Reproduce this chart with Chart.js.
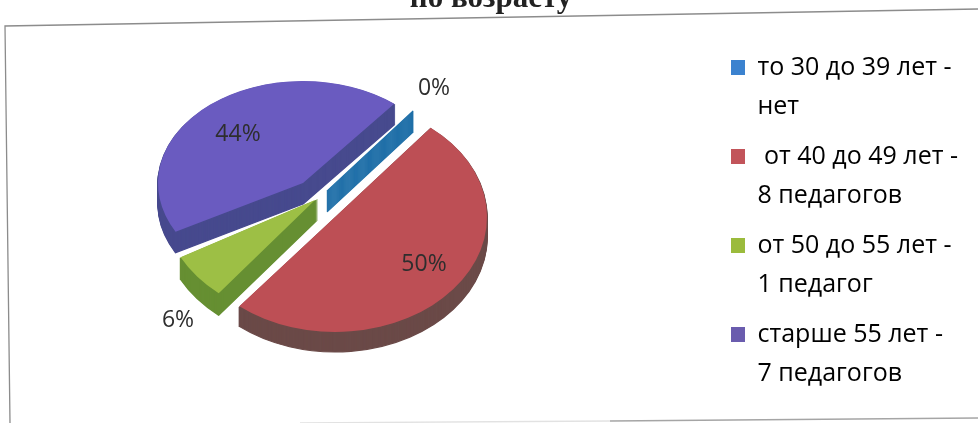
<!DOCTYPE html>
<html><head><meta charset="utf-8">
<style>html,body{margin:0;padding:0;background:#fff}#w{position:relative;width:978px;height:423px}canvas{display:block}</style>
<script src="https://cdn.jsdelivr.net/npm/chart.js@4"></script></head>
<body><div id="w"><canvas id="c" width="978" height="423"></canvas></div>
<script>
const categories=[["то 30 до 39 лет -","нет"],[" от 40 до 49 лет -","8 педагогов"],["от 50 до 55 лет -","1 педагог"],["старше 55 лет -","7 педагогов"]];
const values=[0,8,1,7];
const titleText="по возрасту";
const topColors=["#1f6fa8","#bd4f55","#9dbf45","#6a5bc0"];
const legendColors=["#3b82cf","#c2545a","#9bbb3c","#6a5cae"];
const wallColors=["#1f6fa8","#6b4a48","#668f32","#474a8e"];
// per-slice projection of the 3D pie: apex x,y and radii of the tilted ellipse
const apexX=[327,335,315,303], apexY=[190,217,200,183];
const radX=[137,152,153,145], radY=[103,115,120,102];
const depth=[22,20,22,21];
const labelX=[434,424,178,238], labelY=[88,264,320,134];
const drawOrder=[3,2,0,1];

function place(ctx,el,i,dy){
  const R=el.outerRadius;
  ctx.translate(apexX[i],apexY[i]+dy);
  ctx.scale(radX[i]/R,radY[i]/R);
  ctx.translate(-el.x,-el.y);
}
const pie3d={id:'pie3d',
  beforeDraw(chart){
    const c=chart.ctx;c.save();c.strokeStyle='#8c8c8c';c.lineWidth=1.3;
    c.beginPath();c.moveTo(10,423);c.lineTo(5,26);c.lineTo(978,9);c.stroke();
    c.strokeStyle='#e2e2e2';
    c.beginPath();c.moveTo(300,423);c.lineTo(610,421);c.stroke();
    c.strokeStyle='#a5a5a5';
    c.beginPath();c.moveTo(610,421);c.lineTo(978,418);c.stroke();
    c.restore();
  },
  beforeDatasetsDraw(chart){
    const ctx=chart.ctx,els=chart.getDatasetMeta(0).data;
    for(const i of drawOrder){
      const el=els[i];
      for(let d=depth[i];d>=1;d--){
        ctx.save();place(ctx,el,i,d);
        ctx.beginPath();ctx.moveTo(el.x,el.y);
        ctx.arc(el.x,el.y,el.outerRadius,el.startAngle,el.endAngle);ctx.closePath();
        ctx.fillStyle=wallColors[i];ctx.strokeStyle=wallColors[i];ctx.lineWidth=2;
        ctx.fill();ctx.stroke();ctx.restore();
      }
      ctx.save();place(ctx,el,i,0);el.draw(ctx);ctx.restore();
    }
    const sum=values.reduce((a,b)=>a+b,0);
    ctx.save();ctx.font='23px "Open Sans"';ctx.fillStyle='#2e2e2e';ctx.textAlign='center';ctx.textBaseline='middle';
    values.forEach((v,i)=>ctx.fillText(Math.round(v/sum*100)+'%',labelX[i],labelY[i]));
    ctx.restore();
    return false;
  }
};
new Chart(document.getElementById('c'),{
  type:'pie',
  data:{labels:categories,datasets:[{data:values,backgroundColor:topColors,borderWidth:0}]},
  options:{responsive:false,animation:false,rotation:39,
    layout:{padding:{left:14,right:10,top:32,bottom:0}},
    plugins:{
      tooltip:{enabled:false},
      title:{display:true,text:titleText,color:'#222',font:{family:'"Liberation Serif"',size:31,weight:'bold',lineHeight:1},padding:{top:-49,bottom:0}},
      legend:{position:'right',align:'center',
        labels:{boxWidth:14,boxHeight:15,padding:11,color:'#333',font:{family:'"Open Sans"',size:25,lineHeight:1.56},
          generateLabels:()=>categories.map((t,i)=>({text:t,fillStyle:legendColors[i],strokeStyle:legendColors[i],lineWidth:0,index:i,datasetIndex:0}))}}
    }},
  plugins:[pie3d]
});
</script></body></html>
